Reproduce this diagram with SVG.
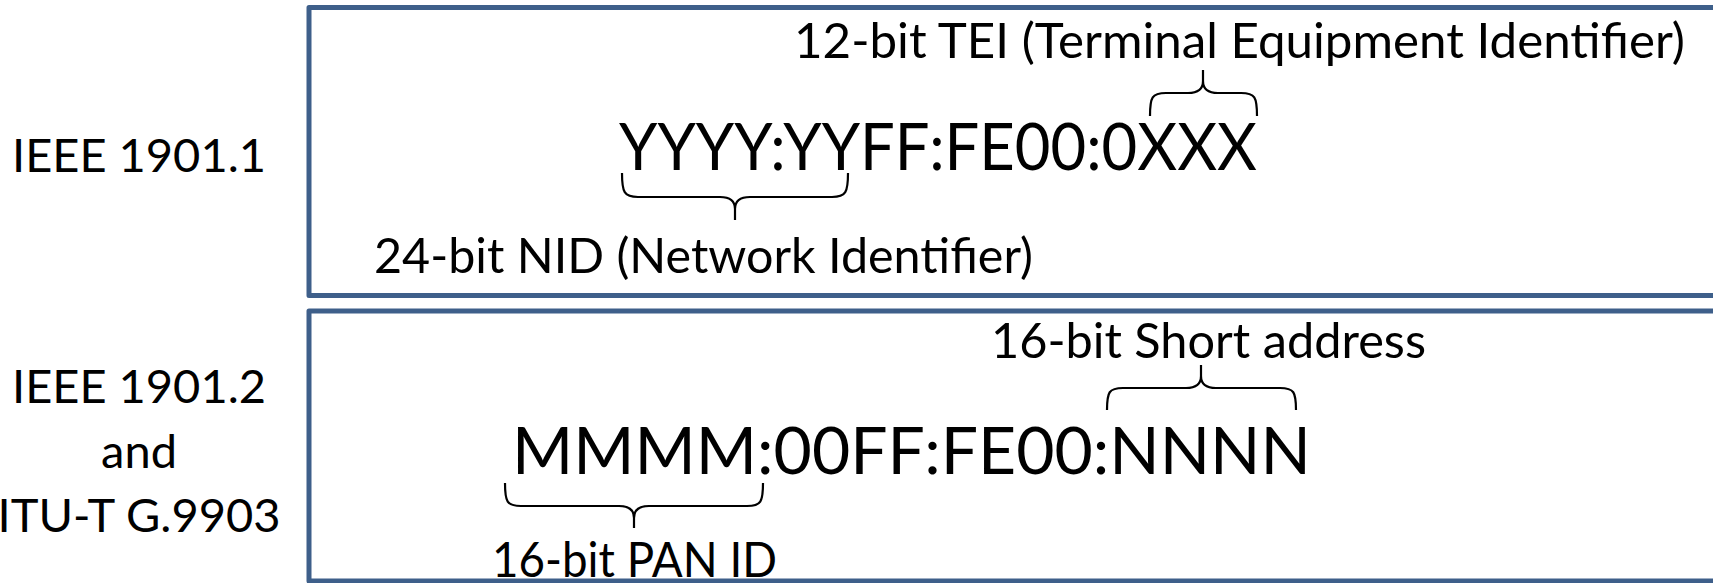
<svg xmlns="http://www.w3.org/2000/svg" width="1713" height="583" viewBox="0 0 1713 583">
<style>
.box{fill:#ffffff;stroke:#3E5F8A;stroke-width:5;stroke-linejoin:round}
.lbl{font-family:Lato,"Liberation Sans",sans-serif;font-size:47px;fill:#000;text-anchor:middle}
.ann{font-family:Lato,"Liberation Sans",sans-serif;font-size:48px;fill:#000}
.big{font-family:Lato,"Liberation Sans",sans-serif;font-size:66px;fill:#000}
.brace{fill:none;stroke:#000;stroke-width:2.2}
</style>
<rect width="1713" height="583" fill="#ffffff"/>
<g id="row1">
  <rect class="box" x="309" y="7.5" width="1412" height="288"/>
  <text class="lbl" x="139" y="172">IEEE 1901.1</text>
</g>
<g id="row2">
  <rect class="box" x="309" y="311" width="1412" height="270"/>
  <text class="lbl" x="139" y="403">IEEE 1901.2</text>
  <text class="lbl" x="139" y="468">and</text>
  <text class="lbl" x="139" y="532">ITU-T G.9903</text>
</g>
<g id="addr1">
  <text class="big" x="619" y="170" textLength="638" lengthAdjust="spacingAndGlyphs">YYYY:YYFF:FE00:0XXX</text>
</g>
<g id="tei">
  <text class="ann" x="794" y="58" textLength="891" lengthAdjust="spacingAndGlyphs">12-bit TEI (Terminal Equipment Identifier)</text>
</g>
<g id="nid">
  <text class="ann" x="374" y="273" textLength="659" lengthAdjust="spacingAndGlyphs">24-bit NID (Network Identifier)</text>
</g>
<g id="addr2">
  <text class="big" x="512" y="474">MMMM:00FF:FE00:NNNN</text>
</g>
<g id="short">
  <text class="ann" x="991" y="358" textLength="435" lengthAdjust="spacingAndGlyphs">16-bit Short address</text>
</g>
<g id="pan">
  <text class="ann" x="492" y="577" textLength="285" lengthAdjust="spacingAndGlyphs">16-bit PAN ID</text>
</g>
<g id="connectors">
  <path class="brace" d="M622,173 C622,192 624,197 638,197 L720,197 C729,197 735,200 735,209 L735,220 M735,209 C735,200 741,197 750,197 L832,197 C846,197 848,192 848,173"/>
  <path class="brace" d="M1150,116 C1150,97 1152,93 1166,93 L1188,93 C1197,93 1203,90 1203,81 L1203,70 M1203,81 C1203,90 1209,93 1218,93 L1241,93 C1255,93 1257,97 1257,116"/>
  <path class="brace" d="M1107,410 C1107,392 1109,388 1123,388 L1186,388 C1195,388 1201,385 1201,376 L1201,365 M1201,376 C1201,385 1207,388 1216,388 L1280,388 C1294,388 1296,392 1296,410"/>
  <path class="brace" d="M505,483 C505,502 507,506 521,506 L619,506 C628,506 634,509 634,518 L634,528 M634,518 C634,509 640,506 649,506 L747,506 C761,506 763,502 763,483"/>
</g>
</svg>
